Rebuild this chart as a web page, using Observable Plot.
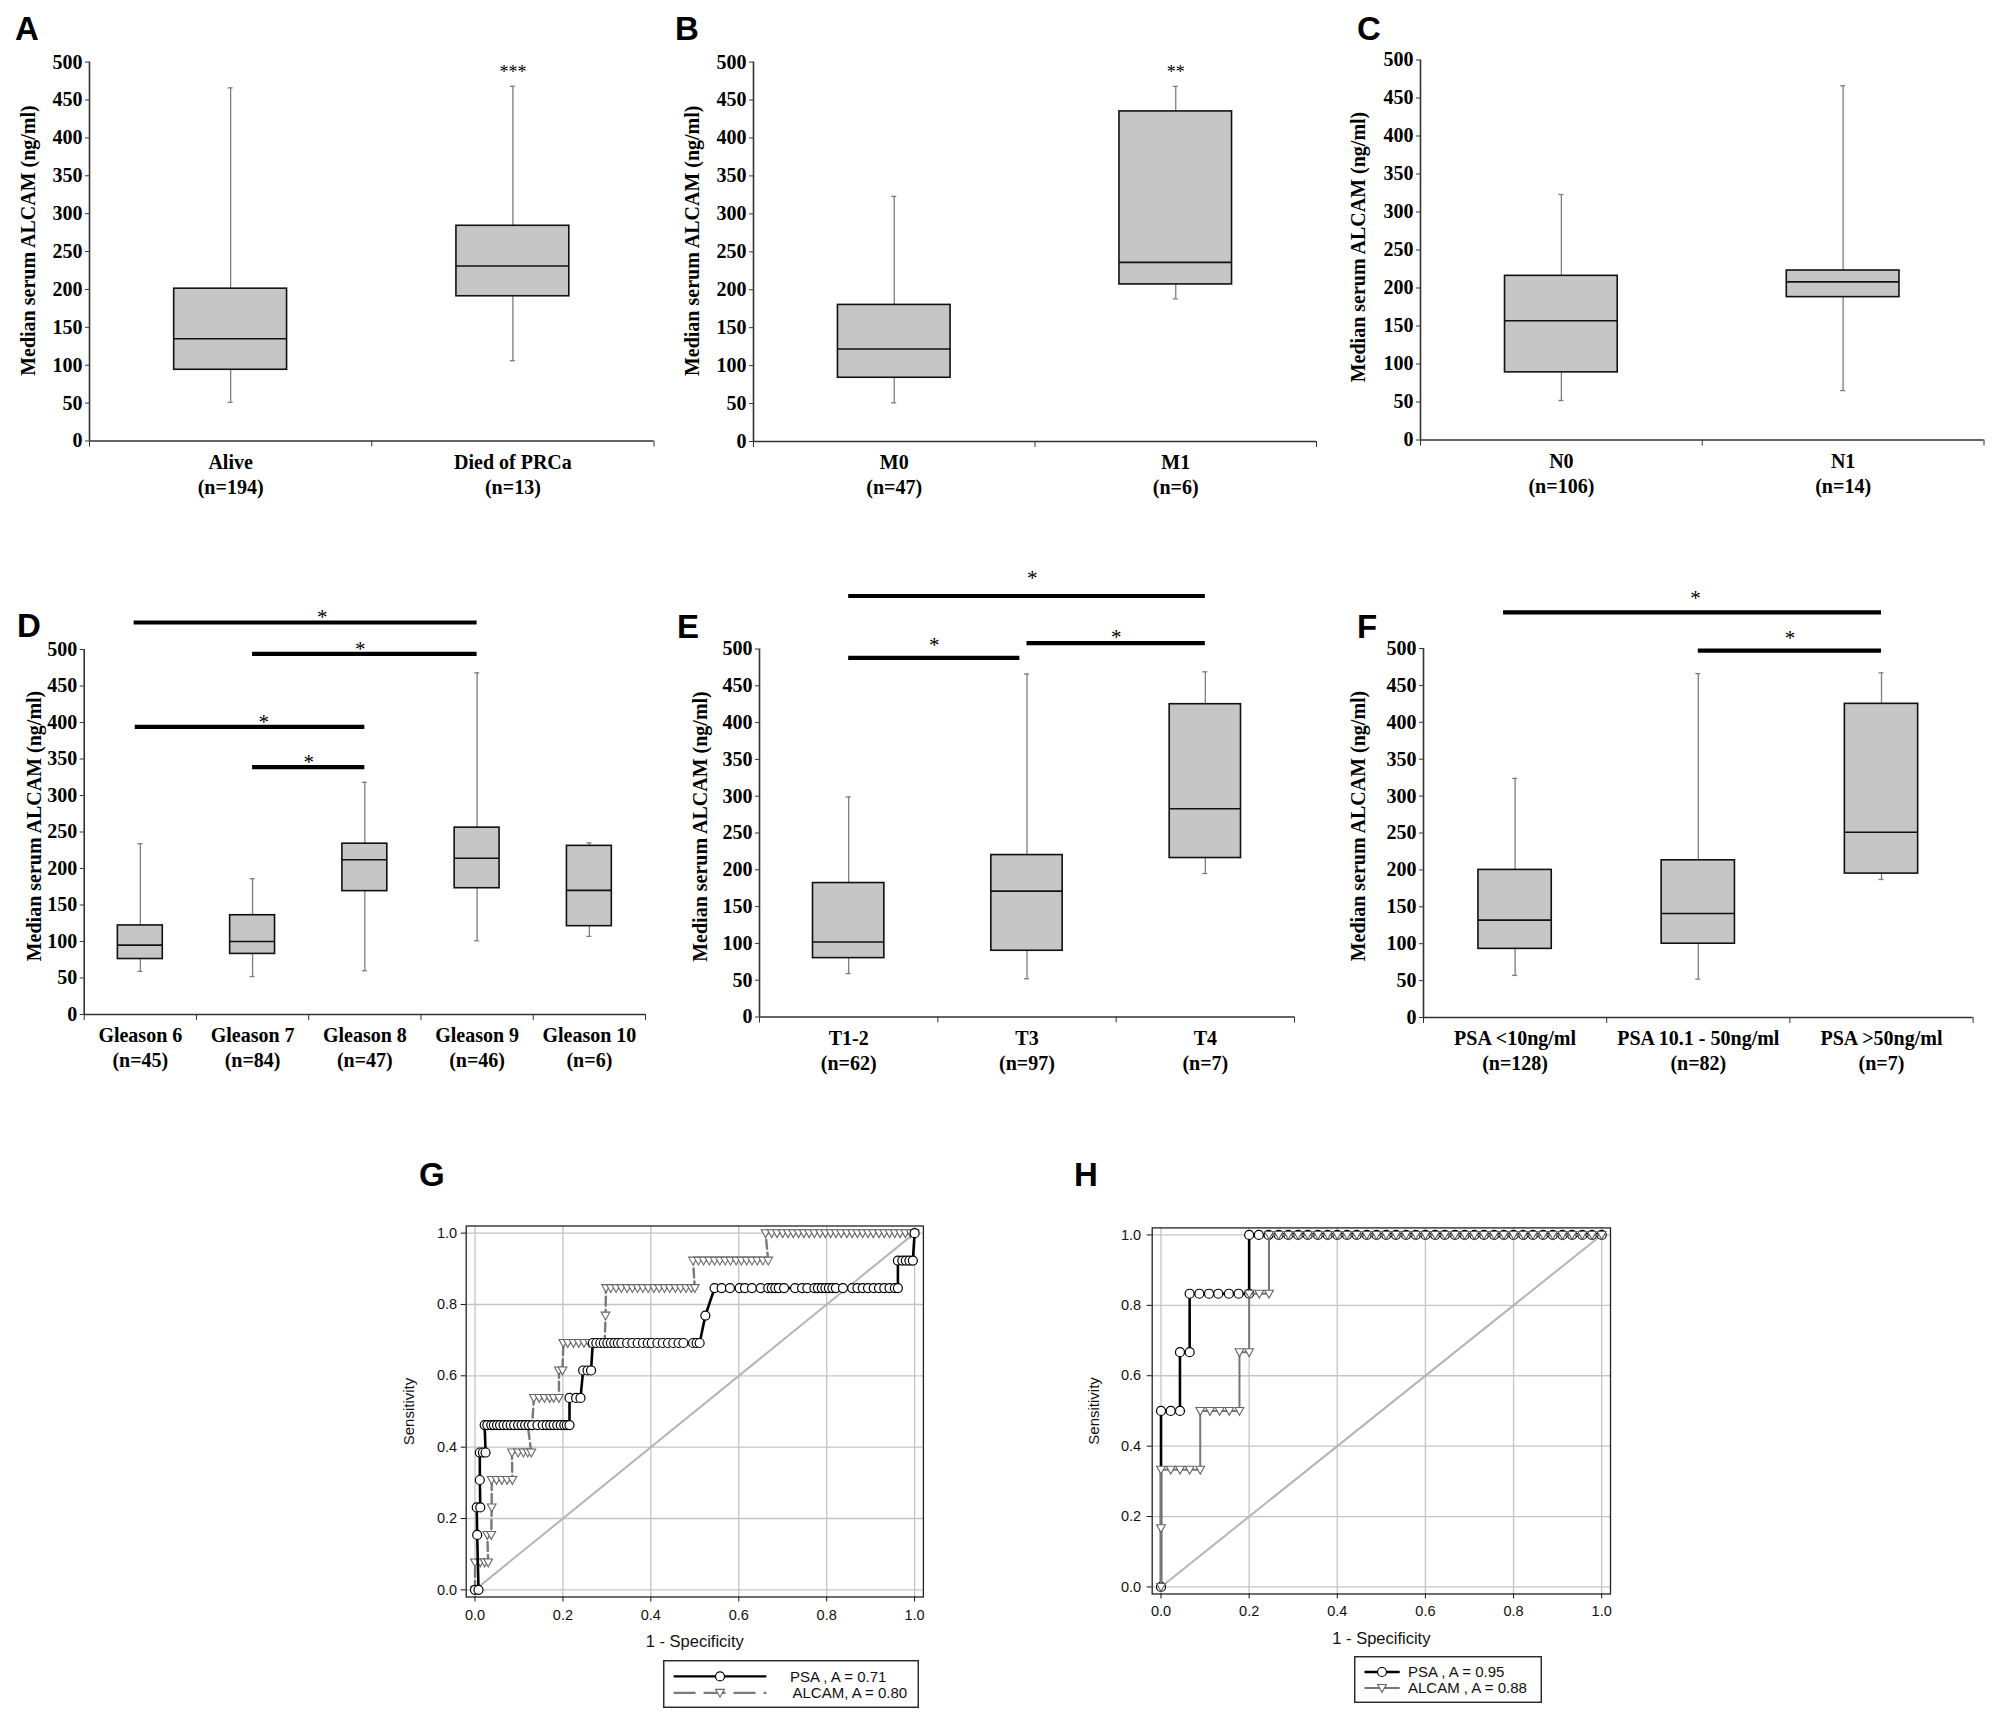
<!DOCTYPE html>
<html>
<head>
<meta charset="utf-8">
<script src="https://cdn.jsdelivr.net/npm/d3@7"></script>
<script src="https://cdn.jsdelivr.net/npm/@observablehq/plot@0.6"></script>
<style>
html, body { margin: 0; padding: 0; background: #fff; }
#page { position: relative; width: 2000px; height: 1722px; overflow: hidden; background: #fff; }
#page svg { position: absolute; }
</style>
</head>
<body>
<div id="page"></div>
<script>
// ---------------- DATA ----------------
const yTitle = "Median serum ALCAM (ng/ml)";
const yTicks = [0, 50, 100, 150, 200, 250, 300, 350, 400, 450, 500];

// A: survival
const catsA = ["Alive", "Died of PRCa"];
const nA = [194, 13];
const lowA = [51, 106];
const q1A = [94, 191];
const medA = [135, 231];
const q3A = [201, 284];
const highA = [466, 468];
const marksA = [["Died of PRCa", "***"]];

// B: metastasis
const catsB = ["M0", "M1"];
const nB = [47, 6];
const lowB = [51, 188];
const q1B = [84, 207];
const medB = [122, 236];
const q3B = [180, 435];
const highB = [323, 468];
const marksB = [["M1", "**"]];

// C: nodal status
const catsC = ["N0", "N1"];
const nC = [106, 14];
const lowC = [52, 65];
const q1C = [89, 188];
const medC = [157, 208];
const q3C = [216, 223];
const highC = [323, 466];

// D: Gleason
const catsD = ["Gleason 6", "Gleason 7", "Gleason 8", "Gleason 9", "Gleason 10"];
const nD = [45, 84, 47, 46, 6];
const lowD = [59, 52, 60, 101, 107];
const q1D = [76, 83, 169, 173, 121];
const medD = [95, 100, 212, 214, 170];
const q3D = [122, 136, 234, 256, 231];
const highD = [234, 186, 318, 468, 235];
const pairsD = [["Gleason 6", "Gleason 9", "*"], ["Gleason 7", "Gleason 9", "*"], ["Gleason 6", "Gleason 8", "*"], ["Gleason 7", "Gleason 8", "*"]];

// E: T stage
const catsE = ["T1-2", "T3", "T4"];
const nE = [62, 97, 7];
const lowE = [59, 52, 195];
const q1E = [80, 90, 216];
const medE = [102, 171, 283];
const q3E = [182, 220, 425];
const highE = [299, 466, 469];
const pairsE = [["T1-2", "T4", "*"], ["T1-2", "T3", "*"], ["T3", "T4", "*"]];

// F: PSA
const catsF = ["PSA <10ng/ml", "PSA 10.1 - 50ng/ml", "PSA >50ng/ml"];
const nF = [128, 82, 7];
const lowF = [57, 52, 187];
const q1F = [93, 100, 195];
const medF = [132, 141, 251];
const q3F = [200, 213, 425];
const highF = [324, 466, 467];
const pairsF = [["PSA <10ng/ml", "PSA >50ng/ml", "*"], ["PSA 10.1 - 50ng/ml", "PSA >50ng/ml", "*"]];

// G / H: ROC curves, [1 - specificity, sensitivity]
const rocTicks = [0, 0.2, 0.4, 0.6, 0.8, 1.0];
const diagonal = [[0, 0], [1, 1]];
const psaG = [
[0,0],[0.008,0],[0.005,0.154],[0.004,0.231],[0.012,0.231],[0.011,0.308],[0.011,0.385],[0.018,0.385],[0.024,0.385],
[0.022,0.462],[0.028,0.462],[0.037,0.462],[0.043,0.462],[0.050,0.462],[0.057,0.462],[0.065,0.462],[0.073,0.462],[0.081,0.462],[0.089,0.462],[0.098,0.462],[0.106,0.462],[0.114,0.462],[0.122,0.462],[0.130,0.462],[0.142,0.462],[0.154,0.462],[0.163,0.462],[0.171,0.462],[0.179,0.462],[0.187,0.462],[0.195,0.462],[0.203,0.462],[0.209,0.462],[0.215,0.462],
[0.215,0.538],[0.230,0.538],[0.240,0.538],
[0.246,0.615],[0.256,0.615],[0.264,0.615],
[0.268,0.692],[0.276,0.692],[0.285,0.692],[0.293,0.692],[0.301,0.692],[0.309,0.692],[0.317,0.692],[0.325,0.692],[0.333,0.692],[0.346,0.692],[0.358,0.692],[0.370,0.692],[0.382,0.692],[0.393,0.692],[0.402,0.692],[0.415,0.692],[0.427,0.692],[0.439,0.692],[0.451,0.692],[0.463,0.692],[0.474,0.692],[0.496,0.692],[0.504,0.692],[0.511,0.692],
[0.524,0.769],
[0.545,0.846],[0.561,0.846],[0.580,0.846],[0.602,0.846],[0.614,0.846],[0.630,0.846],[0.650,0.846],[0.667,0.846],[0.675,0.846],[0.683,0.846],[0.691,0.846],[0.703,0.846],[0.728,0.846],[0.744,0.846],[0.756,0.846],[0.772,0.846],[0.780,0.846],[0.789,0.846],[0.797,0.846],[0.805,0.846],[0.813,0.846],[0.821,0.846],[0.837,0.846],[0.858,0.846],[0.870,0.846],[0.882,0.846],[0.894,0.846],[0.907,0.846],[0.919,0.846],[0.931,0.846],[0.943,0.846],[0.955,0.846],[0.962,0.846],
[0.962,0.923],[0.972,0.923],[0.980,0.923],[0.988,0.923],[0.996,0.923],
[1,1]
];
const alcamG = [
[0,0],[0,0.077],[0.012,0.077],[0.022,0.077],[0.030,0.077],
[0.028,0.154],[0.037,0.154],
[0.038,0.231],
[0.038,0.308],[0.049,0.308],[0.061,0.308],[0.073,0.308],[0.085,0.308],
[0.084,0.385],[0.098,0.385],[0.110,0.385],[0.120,0.385],[0.128,0.385],
[0.120,0.462],[0.130,0.462],
[0.134,0.538],[0.146,0.538],[0.158,0.538],[0.170,0.538],[0.179,0.538],[0.191,0.538],
[0.191,0.615],[0.199,0.615],
[0.201,0.692],[0.211,0.692],[0.224,0.692],[0.236,0.692],[0.248,0.692],[0.260,0.692],[0.272,0.692],[0.285,0.692],[0.295,0.692],
[0.297,0.769],
[0.298,0.846],[0.309,0.846],[0.321,0.846],[0.333,0.846],[0.346,0.846],[0.358,0.846],[0.370,0.846],[0.382,0.846],[0.394,0.846],[0.407,0.846],[0.419,0.846],[0.431,0.846],[0.443,0.846],[0.456,0.846],[0.468,0.846],[0.480,0.846],[0.492,0.846],[0.500,0.846],
[0.496,0.923],[0.508,0.923],[0.520,0.923],[0.533,0.923],[0.545,0.923],[0.557,0.923],[0.569,0.923],[0.581,0.923],[0.594,0.923],[0.606,0.923],[0.618,0.923],[0.630,0.923],[0.642,0.923],[0.655,0.923],[0.667,0.923],
[0.661,1],[0.675,1],[0.687,1],[0.700,1],[0.712,1],[0.724,1],[0.736,1],[0.748,1],[0.760,1],[0.772,1],[0.785,1],[0.797,1],[0.809,1],[0.821,1],[0.833,1],[0.846,1],[0.858,1],[0.870,1],[0.882,1],[0.894,1],[0.906,1],[0.919,1],[0.931,1],[0.943,1],[0.955,1],[0.967,1],[0.979,1],[0.991,1],[1,1]
];
const psaH = [
[0,0],[0,0.5],[0.022,0.5],[0.043,0.5],[0.043,0.667],[0.065,0.667],
[0.065,0.833],[0.087,0.833],[0.109,0.833],[0.130,0.833],[0.154,0.833],[0.176,0.833],[0.2,0.833],
[0.2,1],[0.222,1],[0.244,1],[0.267,1],[0.289,1],[0.311,1],[0.333,1],[0.356,1],[0.378,1],[0.4,1],[0.422,1],[0.444,1],[0.467,1],[0.489,1],[0.511,1],[0.533,1],[0.556,1],[0.578,1],[0.6,1],[0.622,1],[0.644,1],[0.667,1],[0.689,1],[0.711,1],[0.733,1],[0.756,1],[0.778,1],[0.8,1],[0.822,1],[0.844,1],[0.867,1],[0.889,1],[0.911,1],[0.933,1],[0.956,1],[0.978,1],[1,1]
];
const alcamH = [
[0,0],[0,0.167],[0,0.333],[0.022,0.333],[0.043,0.333],[0.065,0.333],[0.089,0.333],
[0.089,0.5],[0.111,0.5],[0.133,0.5],[0.155,0.5],[0.178,0.5],
[0.178,0.667],[0.2,0.667],
[0.2,0.833],[0.223,0.833],[0.245,0.833],
[0.245,1],[0.267,1],[0.289,1],[0.311,1],[0.333,1],[0.356,1],[0.378,1],[0.4,1],[0.422,1],[0.444,1],[0.467,1],[0.489,1],[0.511,1],[0.533,1],[0.556,1],[0.578,1],[0.6,1],[0.622,1],[0.644,1],[0.667,1],[0.689,1],[0.711,1],[0.733,1],[0.756,1],[0.778,1],[0.8,1],[0.822,1],[0.844,1],[0.867,1],[0.889,1],[0.911,1],[0.933,1],[0.956,1],[0.978,1],[1,1]
];
const legendG = ["PSA , A = 0.71", "ALCAM, A = 0.80"];
const legendH = ["PSA , A = 0.95", "ALCAM , A = 0.88"];
const panelLetters = ["A", "B", "C", "D", "E", "F", "G", "H"];

// ---------------- LAYOUT / STYLE ----------------
const serif = '"Liberation Serif", "Times New Roman", Times, serif';
const sans = '"Liberation Sans", Arial, Helvetica, sans-serif';
const page = document.getElementById("page");

// levels / starLevels: annotation heights in data units; shifts: fractions of a category
const boxLayout = {
  A: {left: 0, top: 0, width: 670, height: 520, ml: 89, mr: 16.5, mt: 61.6, mb: 79.5, tdx: -61, tdy: -11, star: 492},
  B: {left: 660, top: 0, width: 670, height: 520, ml: 93, mr: 14, mt: 61.6, mb: 79, tdx: -60.5, tdy: -11, star: 492},
  C: {left: 1330, top: 0, width: 670, height: 520, ml: 90, mr: 16.5, mt: 59.5, mb: 80.5, tdx: -62, tdy: -3},
  D: {left: 0, top: 540, width: 670, height: 540, ml: 83.7, mr: 25, mt: 109, mb: 66, tdx: -50, tdy: -6,
      levels: [537, 494, 394, 339], starLevels: [549, 506, 406, 351],
      startShift: [-0.055, 0, -0.045, 0], endShift: [0, 0, 0, 0], starShift: [0.12, -0.04, 0.1, 0]},
  E: {left: 670, top: 540, width: 660, height: 540, ml: 89, mr: 36, mt: 108.5, mb: 63.5, tdx: -59, tdy: -6.5,
      levels: [572, 488, 508], starLevels: [601, 510, 522],
      startShift: [0, 0, 0], endShift: [0, -0.04, 0], starShift: [0.03, -0.02, 0]},
  F: {left: 1330, top: 540, width: 670, height: 540, ml: 93, mr: 27.4, mt: 108, mb: 63, tdx: -65, tdy: -7,
      levels: [549, 497], starLevels: [573, 519],
      startShift: [-0.063, 0], endShift: [0, 0], starShift: [-0.015, 0]}
};

function place(svg, left, top) {
  svg.style.position = "absolute";
  svg.style.left = left + "px";
  svg.style.top = top + "px";
  page.appendChild(svg);
}

function boxPanel(d, L) {
  const n = d.cats.length;
  const rows = d.cats.map((c, i) => ({i, c, lo: d.low[i], q1: d.q1[i], med: d.med[i], q3: d.q3[i], hi: d.high[i]}));
  const at = c => d.cats.indexOf(c) + 0.5;
  const whisk = "#7d7d7d";
  const marks = [
    Plot.ruleX(rows, {x: r => r.i + 0.5, y1: "lo", y2: "q1", stroke: whisk, strokeWidth: 1.3}),
    Plot.ruleX(rows, {x: r => r.i + 0.5, y1: "q3", y2: "hi", stroke: whisk, strokeWidth: 1.3}),
    Plot.ruleY(rows, {x1: r => r.i + 0.5, x2: r => r.i + 0.5, y: "lo", insetLeft: -2.5, insetRight: -2.5, stroke: whisk, strokeWidth: 1.3}),
    Plot.ruleY(rows, {x1: r => r.i + 0.5, x2: r => r.i + 0.5, y: "hi", insetLeft: -2.5, insetRight: -2.5, stroke: whisk, strokeWidth: 1.3}),
    Plot.rect(rows, {x1: r => r.i + 0.3, x2: r => r.i + 0.7, y1: "q1", y2: "q3", fill: "#c6c6c6", stroke: "#111", strokeWidth: 1.6}),
    Plot.ruleY(rows, {x1: r => r.i + 0.3, x2: r => r.i + 0.7, y: "med", stroke: "#111", strokeWidth: 1.6}),
    Plot.ruleY([0], {stroke: "#333", strokeWidth: 1.6}),
    Plot.ruleX([0], {y1: yTicks[0], y2: yTicks[yTicks.length - 1], stroke: "#333", strokeWidth: 1.6}),
    Plot.axisY({ticks: yTicks, tickSize: 4, tickPadding: 3, label: null, fontSize: 20, stroke: "#333"}),
    Plot.axisX({ticks: d3.range(n + 1), tickSize: 6, tickFormat: () => "", label: null, stroke: "#333"}),
    Plot.axisX({ticks: d3.range(n).map(i => i + 0.5), tickSize: 0, tickPadding: 10, label: null, fontSize: 20, lineHeight: 1.25,
      tickFormat: v => `${d.cats[Math.floor(v)]}\n(n=${d.n[Math.floor(v)]})`}),
    Plot.text([yTitle], {text: t => t, frameAnchor: "left", textAnchor: "middle", rotate: -90, dx: L.tdx, dy: L.tdy, fontSize: 20, fontWeight: "bold"})
  ];
  if (d.marks) {
    marks.push(Plot.text(d.marks, {x: m => at(m[0]), y: L.star, text: m => m[1], fontSize: 18, fontWeight: "normal", fill: "#000", dy: 4}));
  }
  if (d.pairs) {
    marks.push(Plot.ruleY(d.pairs, {x1: (p, i) => at(p[0]) + L.startShift[i], x2: (p, i) => at(p[1]) + L.endShift[i],
      y: (p, i) => L.levels[i], stroke: "#000", strokeWidth: 4.2}));
    marks.push(Plot.text(d.pairs, {x: (p, i) => (at(p[0]) + at(p[1])) / 2 + L.starShift[i], y: (p, i) => L.starLevels[i],
      text: p => p[2], fontSize: 21, fontWeight: "normal", fill: "#000", dy: 4}));
  }
  const svg = Plot.plot({
    width: L.width, height: L.height,
    marginLeft: L.ml, marginRight: L.mr, marginTop: L.mt, marginBottom: L.mb,
    x: {type: "linear", domain: [0, n]},
    y: {domain: [yTicks[0], yTicks[yTicks.length - 1]]},
    style: {fontFamily: serif, fontWeight: "bold", color: "#000", background: "transparent", overflow: "visible"},
    marks
  });
  place(svg, L.left, L.top);
}

boxPanel({cats: catsA, n: nA, low: lowA, q1: q1A, med: medA, q3: q3A, high: highA, marks: marksA}, boxLayout.A);
boxPanel({cats: catsB, n: nB, low: lowB, q1: q1B, med: medB, q3: q3B, high: highB, marks: marksB}, boxLayout.B);
boxPanel({cats: catsC, n: nC, low: lowC, q1: q1C, med: medC, q3: q3C, high: highC}, boxLayout.C);
boxPanel({cats: catsD, n: nD, low: lowD, q1: q1D, med: medD, q3: q3D, high: highD, pairs: pairsD}, boxLayout.D);
boxPanel({cats: catsE, n: nE, low: lowE, q1: q1E, med: medE, q3: q3E, high: highE, pairs: pairsE}, boxLayout.E);
boxPanel({cats: catsF, n: nF, low: lowF, q1: q1F, med: medF, q3: q3F, high: highF, pairs: pairsF}, boxLayout.F);

// ---------------- ROC ----------------
const triDown = {
  draw(ctx, size) {
    const r = Math.sqrt(size / Math.PI);
    ctx.moveTo(-0.95 * r, -0.75 * r);
    ctx.lineTo(0.95 * r, -0.75 * r);
    ctx.lineTo(0, 0.95 * r);
    ctx.closePath();
  }
};

const rocLayout = {
  G: {left: 380, top: 1140, width: 560, height: 580, ml: 85.7, mr: 17.1, mt: 85.5, mb: 123.5,
      yPad: 4, xPad: 8, sdx: -57, xdy: 45, dash: "9,4", alcamColor: "#7a7a7a", alcamWidth: 2.4, alcamOnTop: false},
  H: {left: 1040, top: 1140, width: 600, height: 580, ml: 111.7, mr: 30, mt: 87.4, mb: 126.5,
      yPad: 6, xPad: 7, sdx: -58, xdy: 44.5, dash: null, alcamColor: "#777", alcamWidth: 2, alcamOnTop: true}
};

function rocPanel(psa, alcam, L) {
  const X = d => d[0], Y = d => d[1];
  const alcamMarks = [
    Plot.line(alcam, {x: X, y: Y, stroke: L.alcamColor, strokeWidth: L.alcamWidth, strokeDasharray: L.dash || undefined}),
    Plot.dot(alcam, {x: X, y: Y, symbol: triDown, r: 4.6, fill: "#fff", stroke: "#666", strokeWidth: 1.1})
  ];
  const psaMarks = [
    Plot.line(psa, {x: X, y: Y, stroke: "#000", strokeWidth: 2.6}),
    Plot.dot(psa, {x: X, y: Y, r: 4.5, fill: "#fff", stroke: "#000", strokeWidth: 1.2})
  ];
  const curves = L.alcamOnTop ? [...psaMarks, ...alcamMarks] : [...alcamMarks, ...psaMarks];
  const svg = Plot.plot({
    width: L.width, height: L.height,
    marginLeft: L.ml, marginRight: L.mr, marginTop: L.mt, marginBottom: L.mb,
    x: {domain: [-0.02, 1.02]},
    y: {domain: [-0.02, 1.02]},
    style: {fontFamily: sans, fontSize: "14.5px", color: "#111", background: "transparent", overflow: "visible"},
    marks: [
      Plot.gridX({ticks: rocTicks, stroke: "#c4c4c4", strokeOpacity: 1, strokeWidth: 1.3}),
      Plot.gridY({ticks: rocTicks, stroke: "#c4c4c4", strokeOpacity: 1, strokeWidth: 1.3}),
      Plot.line(diagonal, {x: X, y: Y, stroke: "#b5b5b5", strokeWidth: 2}),
      ...curves,
      Plot.frame({stroke: "#222", strokeWidth: 1.3}),
      Plot.axisX({ticks: rocTicks, tickSize: 5, tickPadding: L.xPad, tickFormat: d3.format(".1f"), label: null, fontSize: 14.5}),
      Plot.axisY({ticks: rocTicks, tickSize: 5, tickPadding: L.yPad, tickFormat: d3.format(".1f"), label: null, fontSize: 14.5}),
      Plot.text(["Sensitivity"], {text: t => t, frameAnchor: "left", textAnchor: "middle", rotate: -90, dx: L.sdx, fontSize: 15}),
      Plot.text(["1 - Specificity"], {text: t => t, frameAnchor: "bottom", textAnchor: "middle", dy: L.xdy, fontSize: 16.5, lineAnchor: "middle"})
    ]
  });
  place(svg, L.left, L.top);
}

rocPanel(psaG, alcamG, rocLayout.G);
rocPanel(psaH, alcamH, rocLayout.H);

// ---------------- LEGENDS ----------------
function legend(labels, L) {
  const svg = d3.create("svg").attr("width", L.w).attr("height", L.h)
    .style("position", "absolute").style("left", L.left + "px").style("top", L.top + "px");
  svg.append("rect").attr("x", 0.75).attr("y", 0.75).attr("width", L.w - 1.5).attr("height", L.h - 1.5)
    .attr("fill", "#fff").attr("stroke", "#222").attr("stroke-width", 1.4);
  const sym = d3.symbol(triDown, 4.6 * 4.6 * Math.PI);
  labels.forEach((label, k) => {
    const y = L.rows[k];
    const isPsa = k === 0;
    svg.append("line").attr("x1", L.lx1).attr("x2", L.lx2).attr("y1", y).attr("y2", y)
      .attr("stroke", isPsa ? "#000" : L.alcamColor).attr("stroke-width", isPsa ? 2.4 : 2.2)
      .attr("stroke-dasharray", isPsa ? null : L.dash);
    if (isPsa) {
      svg.append("circle").attr("cx", L.mx).attr("cy", y).attr("r", 4.5).attr("fill", "#fff").attr("stroke", "#000").attr("stroke-width", 1.2);
    } else {
      svg.append("path").attr("d", sym()).attr("transform", `translate(${L.mx},${y})`).attr("fill", "#fff").attr("stroke", "#666").attr("stroke-width", 1.1);
    }
    svg.append("text").attr("x", L.tx[k]).attr("y", y).attr("dy", "0.36em")
      .attr("font-family", sans).attr("font-size", 15).attr("fill", "#111").text(label);
  });
  page.appendChild(svg.node());
}
legend(legendG, {left: 663, top: 1660, w: 256, h: 48, rows: [16.4, 32.8], lx1: 10.6, lx2: 103.4, mx: 57, tx: [127, 129.5], dash: "22,8", alcamColor: "#7a7a7a"});
legend(legendH, {left: 1354, top: 1656, w: 188, h: 47, rows: [16, 32], lx1: 10.5, lx2: 45.7, mx: 28, tx: [54, 54], dash: null, alcamColor: "#777"});

// ---------------- PANEL LETTERS ----------------
const letterPos = [[15, 40], [675, 40], [1357, 40], [17, 637], [677, 638], [1357, 638], [419, 1186], [1074, 1186]];
const overlay = d3.create("svg").attr("width", 2000).attr("height", 1722)
  .style("position", "absolute").style("left", "0px").style("top", "0px").style("pointer-events", "none");
overlay.selectAll("text").data(panelLetters).join("text")
  .attr("x", (d, i) => letterPos[i][0]).attr("y", (d, i) => letterPos[i][1])
  .attr("font-family", sans).attr("font-weight", "bold").attr("font-size", 33).attr("fill", "#000")
  .text(d => d);
page.appendChild(overlay.node());
</script>
</body>
</html>
